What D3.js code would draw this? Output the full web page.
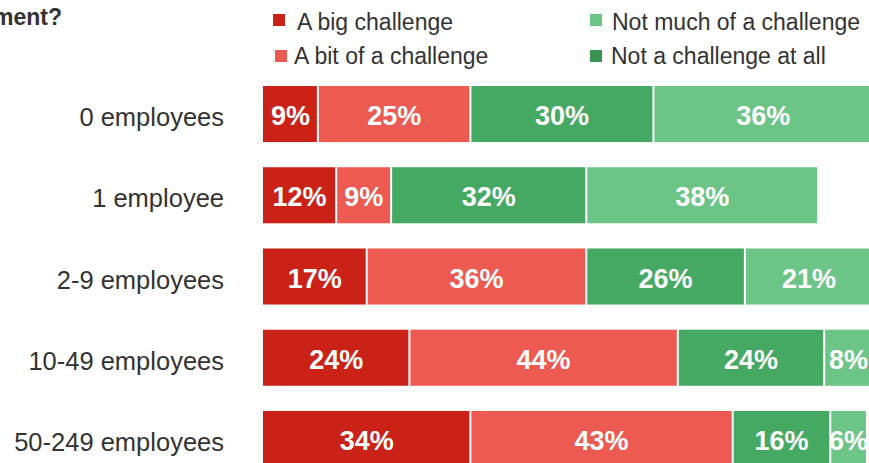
<!DOCTYPE html>
<html>
<head>
<meta charset="utf-8">
<script src="https://cdn.jsdelivr.net/npm/d3@7"></script>
<style>
  html, body { margin: 0; padding: 0; background: #fff; overflow: hidden; }
  svg { display: block; font-family: "Liberation Sans", Arial, Helvetica, sans-serif; }
</style>
</head>
<body>
<svg id="chart" width="869" height="463"></svg>
<script>
// Business size bands
const categories = ["0 employees", "1 employee", "2-9 employees", "10-49 employees", "50-249 employees"];

// Stack order along each bar (left to right)
const seriesNames = ["A big challenge", "A bit of a challenge", "Not a challenge at all", "Not much of a challenge"];

// Share of respondents (%) per size band, one array per series
const bigChallenge      = [9, 12, 17, 24, 34];
const bitOfChallenge    = [25, 9, 36, 44, 43];
const notAtAll          = [30, 32, 26, 24, 16];
const notMuch           = [36, 38, 21, 8, 6];

// Legend layout order: first column, then second column
const legendOrder = [
  ["A big challenge", "A bit of a challenge"],
  ["Not much of a challenge", "Not a challenge at all"]
];

const seriesColors = {
  "A big challenge": "#cb2217",
  "A bit of a challenge": "#ec5a51",
  "Not a challenge at all": "#46a963",
  "Not much of a challenge": "#6cc586"
};
const legendColors = {
  "A big challenge": "#cb2217",
  "A bit of a challenge": "#ec5a51",
  "Not a challenge at all": "#3b9452",
  "Not much of a challenge": "#6cc586"
};

const valuesBySeries = [bigChallenge, bitOfChallenge, notAtAll, notMuch];
const rows = categories.map((c, i) => {
  const r = { category: c };
  seriesNames.forEach((s, k) => { r[s] = valuesBySeries[k][i]; });
  return r;
});

const svg = d3.select("#chart");

// Title (runs off the left edge)
svg.append("text")
  .attr("x", 62).attr("y", 25)
  .attr("text-anchor", "end")
  .attr("font-size", 23).attr("font-weight", "bold")
  .attr("fill", "#333")
  .text("How much of a challenge is recruitment?");

// Scales
const x = d3.scaleLinear().domain([0, 100]).range([263, 873]);
const y = d3.scaleBand().domain(categories).range([86, 467]).paddingInner(0.31).paddingOuter(0);

const stacked = d3.stack().keys(seriesNames)(rows);

const gap = 1;
const layers = svg.append("g").selectAll("g")
  .data(stacked)
  .join("g")
  .attr("fill", d => seriesColors[d.key]);

layers.selectAll("rect")
  .data(d => d.map(p => ({ p, key: d.key })))
  .join("rect")
  .attr("x", d => x(d.p[0]) + (d.p[0] > 0 ? gap : 0))
  .attr("y", d => y(d.p.data.category))
  .attr("width", d => x(d.p[1]) - x(d.p[0]) - (d.p[0] > 0 ? 2 * gap : gap))
  .attr("height", y.bandwidth());

// Value labels
layers.selectAll("text")
  .data(d => d.map(p => ({ p, key: d.key })))
  .join("text")
  .attr("x", d => (x(d.p[0]) + x(d.p[1])) / 2)
  .attr("y", d => y(d.p.data.category) + y.bandwidth() / 2 + 11)
  .attr("text-anchor", "middle")
  .attr("font-size", 27).attr("font-weight", "bold")
  .attr("fill", "#fff")
  .text(d => (d.p[1] - d.p[0]) + "%");

// Category labels
svg.append("g").selectAll("text")
  .data(categories)
  .join("text")
  .attr("x", 224)
  .attr("y", d => y(d) + y.bandwidth() / 2 + 12)
  .attr("text-anchor", "end")
  .attr("font-size", 25.5)
  .attr("fill", "#333")
  .text(d => d);

// Legend
const legendCols = [{ sx: 273, tx: 297 }, { sx: 590, tx: 612 }];
const legendRows = [{ sy: 14, ty: 30 }, { sy: 50, ty: 64 }];
legendOrder.forEach((col, ci) => {
  col.forEach((name, ri) => {
    const g = svg.append("g");
    g.append("rect")
      .attr("x", legendCols[ci].sx + (ri === 1 && ci === 0 ? 2 : 0))
      .attr("y", legendRows[ri].sy)
      .attr("width", 12).attr("height", 12)
      .attr("fill", legendColors[name]);
    g.append("text")
      .attr("x", legendCols[ci].tx - (ri === 1 ? (ci === 0 ? 3 : 1) : 0))
      .attr("y", legendRows[ri].ty)
      .attr("font-size", 23)
      .attr("fill", "#333")
      .text(name);
  });
});
</script>
</body>
</html>
